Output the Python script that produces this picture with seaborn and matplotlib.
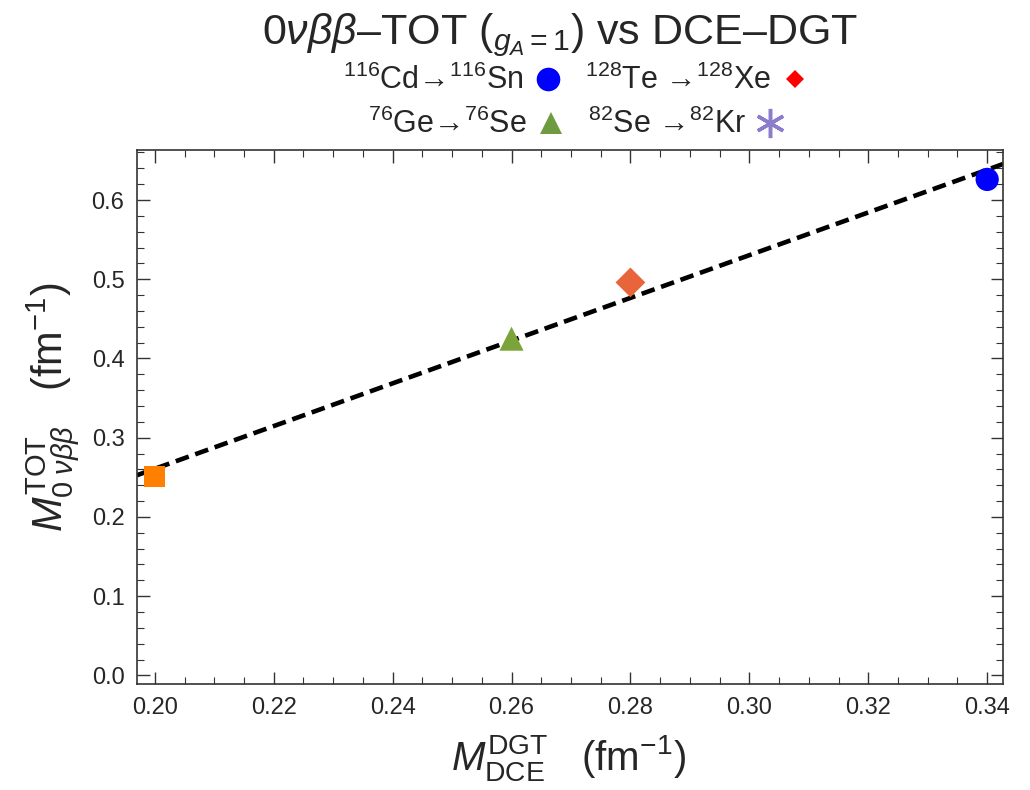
import matplotlib
matplotlib.use("Agg")
import matplotlib.pyplot as plt
import seaborn as sns
import pandas as pd
import numpy as np
from matplotlib.lines import Line2D
from matplotlib.ticker import MultipleLocator

# ---- data ----
pairs = ["Cd", "Te", "Ge", "Se"]
m_dgt = [0.340, 0.280, 0.260, 0.200]
m_tot = [0.626, 0.496, 0.425, 0.251]
point_colors = ["#0000FF", "#E8643A", "#7AA33A", "#FF8000"]
point_markers = ["o", "D", "^", "s"]
point_sizes = [280, 230, 300, 230]

legend_labels = [r"$^{116}$Cd→$^{116}$Sn", r"$^{128}$Te →$^{128}$Xe",
                 r"$^{76}$Ge→$^{76}$Se", r"$^{82}$Se →$^{82}$Kr"]
legend_colors = ["#0000FF", "#FF0000", "#6E9B40", "#8C7CCB"]
legend_markers = ["o", "D", "^", (6, 2, 0)]
legend_msizes = [17, 9, 16, 21]

x_ticks = [0.20, 0.22, 0.24, 0.26, 0.28, 0.30, 0.32, 0.34]
y_ticks = [0.0, 0.1, 0.2, 0.3, 0.4, 0.5, 0.6]

sns.set_theme(style="ticks")
plt.rcParams["font.family"] = ["Liberation Sans", "DejaVu Sans"]
plt.rcParams["mathtext.fontset"] = "custom"
plt.rcParams["mathtext.rm"] = "Liberation Sans"
plt.rcParams["mathtext.it"] = "Liberation Sans:italic"
plt.rcParams["mathtext.bf"] = "Liberation Sans:bold"

fig = plt.figure(figsize=(10.3, 7.9), dpi=100)
ax = fig.add_axes([0.133, 0.134, 0.841, 0.676])

ax.set_xlim(0.197, 0.3427)
ax.set_ylim(-0.011, 0.663)

df = pd.DataFrame({"x": m_dgt, "y": m_tot, "pair": pairs})
sns.regplot(data=df, x="x", y="y", scatter=False, ci=None, truncate=False,
            ax=ax, line_kws=dict(color="black", lw=3.3, ls=(0, (3.0, 1.5))))

for i in range(len(pairs)):
    sns.scatterplot(x=[m_dgt[i]], y=[m_tot[i]], marker=point_markers[i],
                    color=point_colors[i], s=point_sizes[i], edgecolor="none",
                    ax=ax, zorder=5, legend=False)

ax.set_xticks(x_ticks)
ax.set_xticklabels([f"{v:.2f}" for v in x_ticks])
ax.set_yticks(y_ticks)
ax.set_yticklabels([f"{v:.1f}" for v in y_ticks])
ax.xaxis.set_minor_locator(MultipleLocator(0.005))
ax.yaxis.set_minor_locator(MultipleLocator(0.02))
ax.tick_params(which="both", direction="in", top=True, right=True, color="#333333")
ax.tick_params(which="major", length=9, width=1, labelsize=17, pad=9)
ax.tick_params(which="minor", length=5, width=0.8)
for s in ax.spines.values():
    s.set_color("#333333")
    s.set_linewidth(1.2)

ax.set_xlabel("")
ax.set_ylabel("")
fig.text(0.552, 0.040, r"$M^{\rm DGT}_{\rm DCE}$   (fm$^{-1}$)", fontsize=29,
         ha="center", va="center")
fig.text(0.052, 0.484, r"$M^{\rm TOT}_{0\;\nu\beta\beta}$   (fm$^{-1}$)", fontsize=30,
         ha="center", va="center", rotation=90)

fig.text(0.544, 0.955, r"0$\nu\beta\beta$–TOT ($_{g_A\mathregular{=1}}$) vs DCE–DGT",
         fontsize=31, ha="center", va="center")

for row, ypos in enumerate([0.898, 0.842]):
    handles, labels = [], []
    for j in range(2):
        k = row * 2 + j
        handles.append(Line2D([], [], ls="none", marker=legend_markers[k],
                              color=legend_colors[k], markersize=legend_msizes[k],
                              markeredgecolor=legend_colors[k] if k == 3 else "none",
                              markeredgewidth=2.5 if k == 3 else 0))
        labels.append(legend_labels[k])
    fig.legend(handles, labels, ncol=2, loc="center", bbox_to_anchor=(0.560, ypos),
               frameon=False, markerfirst=False, fontsize=22, handletextpad=0.3,
               columnspacing=0.7, handlelength=1.0, borderpad=0)

fig.savefig("out.png", dpi=100)
